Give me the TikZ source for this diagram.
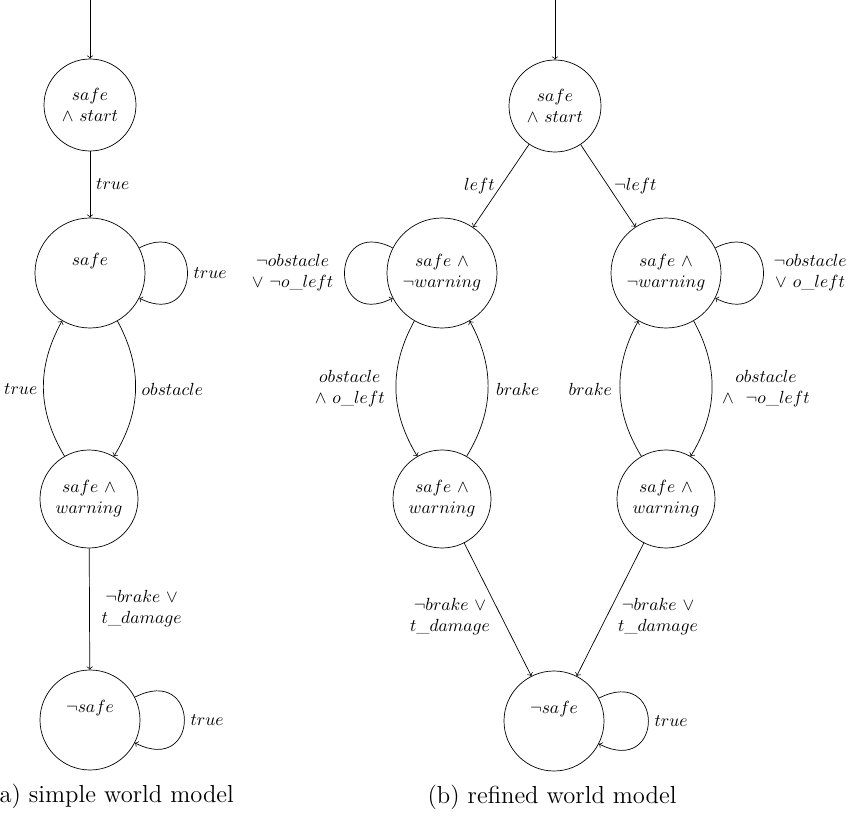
\documentclass[tikz,border=0pt]{standalone}
\begin{document}
\begin{tikzpicture}[x=0.2mm, y=0.2mm,
    state/.style={circle, draw, align=center, inner sep=0pt},
    small state/.style={state, minimum size=18.4mm},
    big state/.style={state, minimum size=22mm},
    warn state/.style={state, minimum size=19.6mm},
    sink state/.style={state, minimum size=20mm},
    trans/.style={->},
    lbl/.style={align=center},
    caption/.style={font=\fontsize{14}{17}\selectfont}]
  \useasboundingbox (0,0) rectangle (852,-818);

  % (a) simple world model
  \coordinate (ain) at (90,0);
  \node[small state] (a0) at (90,-105) {$safe$\\$\land$ $start$};
  \node[big state]   (a1) at (90,-273) {$safe$\\\strut};
  \node[warn state]  (a2) at (89,-499) {$safe$ $\land$\\$warning$};
  \node[sink state]  (a3) at (90,-720) {$\neg safe$\\\strut};

  \draw[trans] (ain) -- (a0);
  \draw[trans] (a0) -- node[right] (ta01) {$true$} (a1);
  \draw[trans] (a1) to[out=27, in=-27, distance=14.4mm] node[right] (ta11) {$true$} (a1);
  \draw[trans] (a1) to[bend left] node[right] (ta12) {$obstacle$} (a2);
  \draw[trans] (a2) to[bend left] node[left] (ta21) {$true$} (a1);
  \draw[trans] (a2) -- node[right, lbl, xshift=1.2mm] (ta23) {$\neg brake$ $\lor$\\$t\_damage$} (a3);
  \draw[trans] (a3) to[out=27, in=-27, distance=14.8mm] node[right] (ta33) {$true$} (a3);

  \node[caption] (capa) at (112,-796) {(a) simple world model};

  % (b) refined world model
  \coordinate (bin) at (555,0);
  \node[small state] (b0)  at (555,-106) {$safe$\\$\land$ $start$};
  \node[big state]   (bl1) at (442,-273) {$safe$ $\land$\\$\neg warning$};
  \node[big state]   (br1) at (666,-273) {$safe$ $\land$\\$\neg warning$};
  \node[warn state]  (bl2) at (442,-499) {$safe$ $\land$\\$warning$};
  \node[warn state]  (br2) at (666,-499) {$safe$ $\land$\\$warning$};
  \node[sink state]  (b3)  at (554,-721) {$\neg safe$\\\strut};

  \draw[trans] (bin) -- (b0);
  \draw[trans] (b0) -- node[left] (tbl) {$left$} (bl1);
  \draw[trans] (b0) -- node[right] (tbr) {$\neg left$} (br1);

  \draw[trans] (bl1) to[out=153, in=207, distance=14.4mm]
    node[left, lbl, xshift=-1mm] (tbl11) {$\neg obstacle$\\$\lor$ $\neg o\_left$} (bl1);
  \draw[trans] (br1) to[out=27, in=-27, distance=14.4mm]
    node[right, lbl, xshift=0.8mm] (tbr11) {$\neg obstacle$\\$\lor$ $o\_left$} (br1);

  \draw[trans] (bl1) to[bend right]
    node[left, lbl, xshift=-1mm] (tbl12) {$obstacle$\\$\land$ $o\_left$} (bl2);
  \draw[trans] (bl2) to[bend right] node[right, xshift=0.4mm] (tbl21) {$brake$} (bl1);
  \draw[trans] (br1) to[bend left]
    node[right, lbl, xshift=0.8mm] (tbr12) {$obstacle$\\$\land$\ \ $\neg o\_left$} (br2);
  \draw[trans] (br2) to[bend left] node[left, xshift=-0.4mm] (tbr21) {$brake$} (br1);

  \draw[trans] (bl2) -- node[left, lbl, pos=0.55, xshift=-1mm]
    (tbl23) {$\neg brake$ $\lor$\\$t\_damage$} (b3);
  \draw[trans] (br2) -- node[right, lbl, pos=0.55, xshift=1mm]
    (tbr23) {$\neg brake$ $\lor$\\$t\_damage$} (b3);
  \draw[trans] (b3) to[out=27, in=-27, distance=14.8mm] node[right] (tb33) {$true$} (b3);

  \node[caption] (capb) at (552,-797) {(b) refined world model};
\end{tikzpicture}
\end{document}
